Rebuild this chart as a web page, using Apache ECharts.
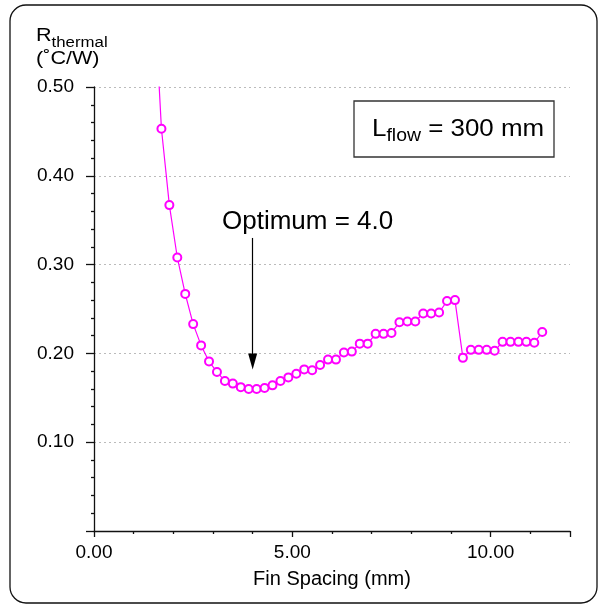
<!DOCTYPE html>
<html><head><meta charset="utf-8">
<script src="https://cdn.jsdelivr.net/npm/echarts/dist/echarts.min.js"></script>
<style>html,body{margin:0;padding:0;background:#fff}#c{width:606px;height:605px}</style>
</head><body><div id="c"></div>
<script>
// Fin spacing (mm)
const finSpacing = [1.5, 1.7, 1.9, 2.1, 2.3, 2.5, 2.7, 2.9, 3.1, 3.3,
  3.5, 3.7, 3.9, 4.1, 4.3, 4.5, 4.7, 4.9, 5.1, 5.3,
  5.5, 5.7, 5.9, 6.1, 6.3, 6.5, 6.7, 6.9, 7.1, 7.3,
  7.5, 7.7, 7.9, 8.1, 8.3, 8.5, 8.7, 8.9, 9.1, 9.3,
  9.5, 9.7, 9.9, 10.1, 10.3, 10.5, 10.7, 10.9, 11.1, 11.3];
// Thermal resistance (°C/W)
const rThermal = [0.62, 0.453, 0.367, 0.308, 0.267, 0.233, 0.209, 0.191, 0.179, 0.169,
  0.166, 0.162, 0.160, 0.160, 0.161, 0.164, 0.169, 0.173, 0.177, 0.182,
  0.181, 0.187, 0.193, 0.193, 0.201, 0.202, 0.211, 0.211, 0.222, 0.222,
  0.223, 0.235, 0.236, 0.236, 0.245, 0.245, 0.246, 0.259, 0.260, 0.195,
  0.204, 0.204, 0.204, 0.203, 0.213, 0.213, 0.213, 0.213, 0.212, 0.224];
const optimumX = 4.0;
const arrowFromY = 0.33;
const arrowToY = 0.191;

const FONT = 'Liberation Sans, Arial, Helvetica, sans-serif';
const chart = echarts.init(document.getElementById('c'), null, {renderer: 'canvas'});
const axisLineStyle = {color: '#111', width: 1.3};

chart.setOption({
  animation: false,
  backgroundColor: '#fff',
  grid: {left: 94, right: 36, top: 87, bottom: 74, containLabel: false},
  xAxis: {
    type: 'value', min: 0, max: 12, interval: 5,
    name: 'Fin Spacing (mm)', nameLocation: 'middle', nameGap: 38,
    nameTextStyle: {fontFamily: FONT, fontSize: 20, color: '#000'},
    axisLine: {show: true, onZero: false, lineStyle: axisLineStyle},
    axisTick: {show: true, inside: false, length: 6, lineStyle: axisLineStyle},
    minorTick: {show: true, splitNumber: 5, length: 3, lineStyle: axisLineStyle},
    axisLabel: {formatter: v => v.toFixed(2), showMaxLabel: false, margin: 12,
      fontFamily: FONT, fontSize: 19, color: '#000'},
    splitLine: {show: false}
  },
  yAxis: {
    type: 'value', min: 0, max: 0.5, interval: 0.1,
    axisLine: {show: true, onZero: false, lineStyle: axisLineStyle},
    axisTick: {show: true, inside: false, length: 8, lineStyle: axisLineStyle},
    minorTick: {show: true, splitNumber: 5, length: 3, lineStyle: axisLineStyle},
    axisLabel: {formatter: v => v.toFixed(2), showMinLabel: false, margin: 20,
      fontFamily: FONT, fontSize: 19, color: '#000'},
    splitLine: {show: true, lineStyle: {type: [2, 3], color: '#bbb', width: 1}}
  },
  series: [{
    type: 'line',
    data: finSpacing.map((x, i) => [x, rThermal[i]]),
    clip: true,
    symbol: 'emptyCircle', symbolSize: 8,
    itemStyle: {color: '#ff00ff', borderWidth: 1.1},
    lineStyle: {color: '#ff00ff', width: 1.2},
    emphasis: {disabled: true},
    markLine: {
      silent: true, animation: false,
      symbol: ['none', 'triangle'], symbolSize: [9, 16],
      lineStyle: {color: '#000', width: 1.2, type: 'solid'},
      label: {show: false},
      emphasis: {disabled: true},
      data: [[{coord: [optimumX, arrowFromY]}, {coord: [optimumX, arrowToY]}]]
    }
  }],
  graphic: [
    {type: 'rect', shape: {x: 10, y: 5, width: 587, height: 598, r: 16},
     style: {fill: 'none', stroke: '#111', lineWidth: 1.3}, silent: true},
    {type: 'text', x: 36, y: 25, scaleX: 1.2,
     style: {
       text: '{R|R}{s|thermal}\n{u|(˚C/W)}',
       font: '18px ' + FONT, fill: '#000',
       rich: {
         R: {fontSize: 18, fontFamily: FONT, fill: '#000', lineHeight: 22},
         s: {fontSize: 14, fontFamily: FONT, fill: '#000', lineHeight: 22, verticalAlign: 'bottom', padding: [0, 0, -3, 0]},
         u: {fontSize: 18, fontFamily: FONT, fill: '#000', lineHeight: 24}
       }
     }},
    {type: 'text', x: 222, y: 222, scaleX: 1.04,
     style: {text: 'Optimum = 4.0', font: '25px ' + FONT, fill: '#000', verticalAlign: 'middle'}},
    {type: 'rect', shape: {x: 354, y: 101, width: 200, height: 56},
     style: {fill: '#fff', stroke: '#333', lineWidth: 1.3}, silent: true},
    {type: 'text', x: 372, y: 129, scaleX: 1.08,
     style: {
       text: '{L|L}{s|flow}{n| = 300 mm}',
       verticalAlign: 'middle', fill: '#000',
       rich: {
         L: {fontSize: 24, fontFamily: FONT, fill: '#000'},
         s: {fontSize: 18, fontFamily: FONT, fill: '#000', verticalAlign: 'bottom', padding: [0, 0, -4, 0]},
         n: {fontSize: 24, fontFamily: FONT, fill: '#000'}
       }
     }}
  ]
});
</script>
</body></html>
